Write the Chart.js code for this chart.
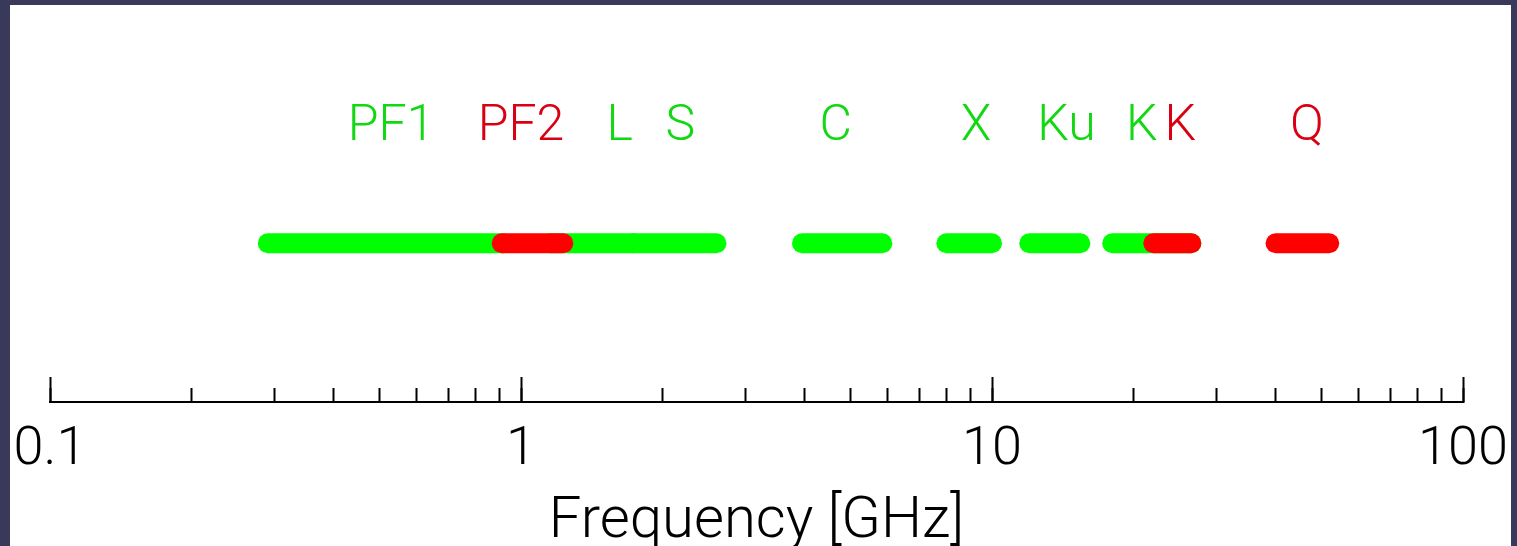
<!DOCTYPE html>
<html>
<head>
<meta charset="utf-8">
<script src="https://cdn.jsdelivr.net/npm/chart.js@4"></script>
<style>
  body { margin: 0; background: #393a5b; overflow: hidden; }
  #panel { position: absolute; left: 10px; top: 5px; width: 1501px; height: 541px; background: #fff; }
  #chart { position: absolute; left: 0; top: 0; }
</style>
</head>
<body>
<div id="panel"></div>
<canvas id="chart" width="1517" height="546"></canvas>
<script>
// receiver bands, frequency range in GHz
const bands     = ['PF1', 'PF2', 'L', 'S', 'C', 'X', 'Ku', 'K', 'K', 'Q']
const bandLow   = [0.29, 0.91, 1.15, 1.73, 3.95, 8.0, 12.0, 18.0, 22.0, 40.0]
const bandHigh  = [0.92, 1.23, 1.73, 2.6, 5.85, 10.0, 15.4, 26.5, 26.5, 52.0]
const bandFlag  = [0, 1, 0, 0, 0, 0, 0, 0, 1, 1]
// where each name sits along the axis (GHz)
const labelFreq = [0.53, 1.0, 1.62, 2.18, 4.66, 9.25, 14.4, 20.8, 25.1, 46.6]
const tickValues = [0.1, 1, 10, 100]

const BAR_LEVEL = 0.395
const LABEL_LEVEL = 0.652
const barColors = ['#00ff00', '#ff0000']
const textColors = ['#12d812', '#d80012']
const FONT = 'Roboto, "Liberation Sans", sans-serif'

const datasets = bands.map((name, i) => ({
  label: name,
  data: [{ x: bandLow[i], y: BAR_LEVEL }, { x: bandHigh[i], y: BAR_LEVEL }],
  borderColor: barColors[bandFlag[i]],
  borderWidth: 20,
  borderCapStyle: 'round',
  pointRadius: 0,
  order: bandFlag[i] ? 0 : 1
}))

const bandLabels = {
  id: 'bandLabels',
  afterDatasetsDraw(chart) {
    const { ctx, scales } = chart
    ctx.save()
    ctx.font = '300 50px ' + FONT
    ctx.textAlign = 'center'
    ctx.textBaseline = 'alphabetic'
    bands.forEach((name, i) => {
      ctx.fillStyle = textColors[bandFlag[i]]
      ctx.fillText(name, scales.x.getPixelForValue(labelFreq[i]), scales.y.getPixelForValue(LABEL_LEVEL))
    })
    ctx.restore()
  }
}

const keepWhole = (scale) => {
  scale.ticks = scale.ticks.filter(t => {
    const m = t.value / Math.pow(10, Math.floor(Math.log10(t.value) + 1e-9))
    return Math.abs(m - Math.round(m)) < 1e-6
  })
}

const noSidePadding = (scale) => {
  scale.paddingLeft = 0
  scale.paddingRight = 0
}

new Chart(document.getElementById('chart'), {
  type: 'line',
  data: { datasets },
  plugins: [bandLabels],
  options: {
    responsive: false,
    animation: false,
    events: [],
    layout: { padding: { left: 50, right: 54, top: 0, bottom: 0 } },
    plugins: { legend: { display: false }, tooltip: { enabled: false } },
    scales: {
      y: { type: 'linear', min: 0, max: 1, display: false },
      // minor ticks + axis line
      x: {
        type: 'logarithmic',
        position: 'bottom',
        weight: 0,
        min: 0.1,
        max: 100,
        afterBuildTicks: keepWhole,
        afterFit: (scale) => { scale.height = 0; noSidePadding(scale) },
        grid: { drawOnChartArea: false, drawTicks: true, tickLength: -14, tickWidth: 2, tickColor: '#000' },
        border: { display: true, color: '#000', width: 2 },
        ticks: { display: false }
      },
      // decade ticks, labels and title
      x2: {
        type: 'logarithmic',
        position: 'bottom',
        weight: 1,
        min: 0.1,
        max: 100,
        afterBuildTicks: (scale) => { scale.ticks = tickValues.map(v => ({ value: v })) },
        afterFit: (scale) => { scale.height = 144; noSidePadding(scale) },
        grid: { drawOnChartArea: false, drawTicks: true, tickLength: -25, tickWidth: 2, tickColor: '#000' },
        border: { display: false },
        ticks: {
          autoSkip: false,
          maxRotation: 0,
          padding: 41,
          color: '#000',
          font: { family: FONT, size: 54, weight: 300 },
          callback: (value) => String(value)
        },
        title: {
          display: true,
          text: 'Frequency [GHz]',
          color: '#000',
          padding: 0,
          font: { family: FONT, size: 58, weight: 300, lineHeight: 0.82 }
        }
      }
    }
  }
})
</script>
</body>
</html>
